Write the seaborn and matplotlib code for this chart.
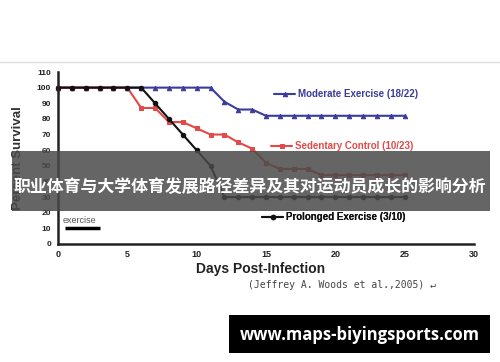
import matplotlib
matplotlib.use("Agg")
import matplotlib.pyplot as plt
import seaborn as sns
import pandas as pd
from matplotlib.patches import Rectangle
from matplotlib.lines import Line2D

days = list(range(0, 26))
moderate = [100]*12 + [91, 86, 86] + [82]*11
sedentary = [100]*6 + [87, 87, 78, 78, 74, 70, 70, 65, 61, 52, 48, 48, 48] + [44]*7
prolonged = [100]*7 + [90, 80, 70, 60, 50] + [30]*14
labels = ["Moderate Exercise (18/22)", "Sedentary Control (10/23)", "Prolonged Exercise (3/10)"]
exercise_days = [0.5, 3]
exercise_level = [10, 10]
xticks = [0, 5, 10, 15, 20, 25, 30]
yticks = list(range(0, 111, 10))
title_cn = "职业体育与大学体育发展路径差异及其对运动员成长的影响分析"
site = "www.maps-biyingsports.com"
citation = "(Jeffrey A. Woods et al.,2005) \u21b5"

sns.set_style("white")
plt.rcParams['font.family'] = ['Liberation Sans', 'DejaVu Sans']

W, H = 500, 362
fig = plt.figure(figsize=(W/100, H/100), dpi=100)
ax = fig.add_axes([58/W, 1-244/H, (474-58)/W, (244-72)/H])

colors = ["#3b3b9c", "#e24a4a", "#111111"]
markers = ["^", "s", "o"]
series = [moderate, sedentary, prolonged]
for vals, lab, c, m in zip(series, labels, colors, markers):
    df = pd.DataFrame({"day": days, "pct": vals})
    sns.lineplot(data=df, x="day", y="pct", ax=ax, color=c, marker=m, markersize=3.2,
                 markeredgecolor=c, linewidth=1.5, label=lab, legend=False, clip_on=False)

ax.plot(exercise_days, exercise_level, color="black", linewidth=2.5, solid_capstyle="butt")
ax.text(0.3, 12, "exercise", fontsize=6.5, color="#555555", va="bottom", ha="left")

ax.set_xlim(0, 30)
ax.set_ylim(0, 110)
ax.set_xticks(xticks)
ax.set_yticks(yticks)
for s in ["top", "right"]:
    ax.spines[s].set_visible(False)
for s in ["left", "bottom"]:
    ax.spines[s].set_linewidth(1.8)
    ax.spines[s].set_color("#222222")
ax.tick_params(axis="y", direction="out", length=3, width=1.5, labelsize=6, colors="#222222", pad=2)
ax.tick_params(axis="x", direction="inout", length=4, width=1.5, labelsize=6.5, colors="#222222", pad=2)
for t in ax.get_xticklabels() + ax.get_yticklabels():
    t.set_fontweight("bold")
ax.set_xlabel("")
ax.set_ylabel("Percent Survival", fontsize=9.5, fontweight="bold", color="#333333", labelpad=9)

fig.text(261/W, 1-269/H, "Days Post-Infection", fontsize=10, fontweight="bold",
         color="#222222", ha="center", va="center")
fig.text(248/W, 1-285/H, citation, fontsize=7, color="#444444", ha="left", va="center",
         family=["DejaVu Sans Mono", "DejaVu Sans"])

lines = ax.get_lines()[:3]
leg_pos = [(274, 94), (271, 146), (262, 217)]
leg_colors = ["#3b3b9c", "#e24a4a", "#111111"]
for ln, lab, (px, py), tc in zip(lines, labels, leg_pos, leg_colors):
    lg = ax.legend([ln], [lab], loc="center left", bbox_to_anchor=(px/W, 1-py/H),
                   bbox_transform=fig.transFigure, frameon=False,
                   handlelength=2.2, handletextpad=0.3, borderpad=0, borderaxespad=0,
                   prop={"weight": "bold", "size": 7})
    for t in lg.get_texts():
        t.set_color(tc)
    ax.add_artist(lg)

# top border line of embedded image
fig.add_artist(Line2D([0, 1], [1-62/H, 1-62/H], transform=fig.transFigure, color="#dddddd", linewidth=1))

# overlay band
fig.add_artist(Rectangle((12/W, 1-211/H), (490-12)/W, 60/H, transform=fig.transFigure,
                         facecolor="#4a4a4a", alpha=0.85, edgecolor="none", zorder=10))
fig.text(250/W, 1-187/H, title_cn, fontsize=12.2, fontweight="bold", color="white",
         ha="center", va="center", zorder=11, family=["Noto Sans CJK SC", "DejaVu Sans"])

# bottom site banner
fig.add_artist(Rectangle((229/W, 1-353/H), (490-229)/W, 38/H, transform=fig.transFigure,
                         facecolor="black", edgecolor="none", zorder=10))
fig.text(360/W, 1-335/H, site, fontsize=12, fontweight="bold", color="white",
         ha="center", va="center", zorder=11, family=["Open Sans", "DejaVu Sans"])

fig.savefig("out.png", dpi=100)
